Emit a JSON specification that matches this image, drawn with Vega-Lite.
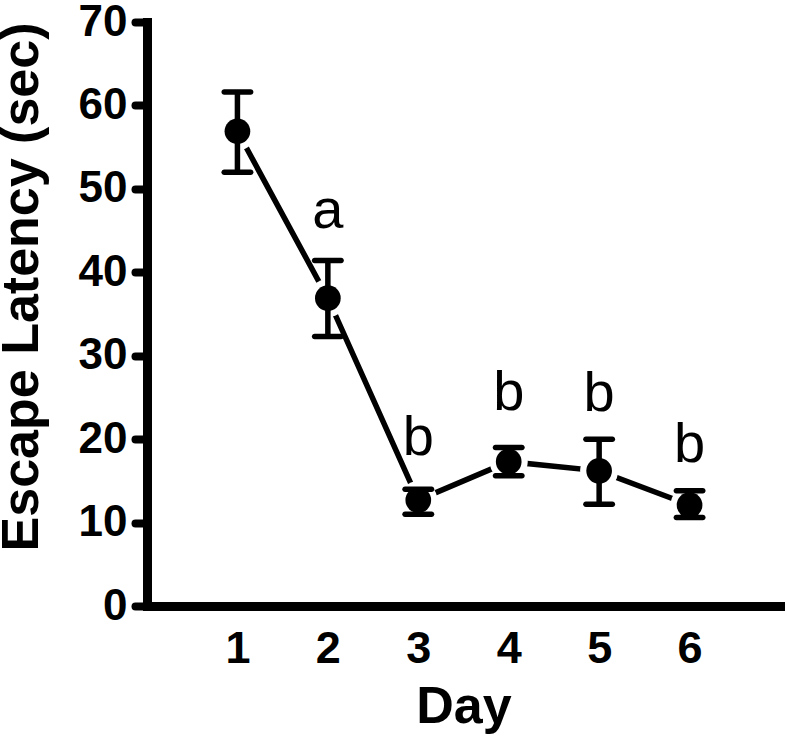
{
  "$schema": "https://vega.github.io/schema/vega-lite/v6.json",
  "autosize": "none",
  "width": 633,
  "height": 584,
  "padding": {"left": 147, "top": 22, "right": 7, "bottom": 132},
  "background": "white",
  "config": {
    "view": {"stroke": null},
    "font": "Liberation Sans",
    "axis": {
      "grid": false,
      "domainColor": "black",
      "domainWidth": 9,
      "domainCap": "square",
      "tickColor": "black",
      "labelColor": "black",
      "titleColor": "black",
      "labelFont": "Liberation Sans",
      "titleFont": "Liberation Sans",
      "labelFontWeight": "bold",
      "titleFontWeight": "bold"
    }
  },
  "data": {
    "values": [
      {"day": 1, "mean": 56.9, "lo": 52.0, "hi": 61.6, "letter": "", "ly": 0},
      {"day": 2, "mean": 36.9, "lo": 32.3, "hi": 41.4, "letter": "a", "ly": 45.3},
      {"day": 3, "mean": 12.7, "lo": 11.0, "hi": 14.0, "letter": "b", "ly": 18.1},
      {"day": 4, "mean": 17.3, "lo": 15.6, "hi": 19.0, "letter": "b", "ly": 23.5},
      {"day": 5, "mean": 16.2, "lo": 12.2, "hi": 20.0, "letter": "b", "ly": 23.4},
      {"day": 6, "mean": 12.1, "lo": 10.6, "hi": 13.8, "letter": "b", "ly": 17.3}
    ]
  },
  "encoding": {
    "x": {
      "field": "day",
      "type": "quantitative",
      "scale": {"domain": [0, 7], "nice": false, "zero": false},
      "axis": {
        "title": "Day",
        "values": [1, 2, 3, 4, 5, 6],
        "ticks": false,
        "labelFontSize": 45,
        "labelPadding": 20,
        "titleFontSize": 52,
        "titlePadding": 10
      }
    }
  },
  "layer": [
    {
      "mark": {"type": "line", "color": "black", "strokeWidth": 5.5},
      "encoding": {
        "y": {
          "field": "mean",
          "type": "quantitative",
          "scale": {"domain": [0, 70], "nice": false},
          "axis": {
            "title": "Escape Latency (sec)",
            "values": [0, 10, 20, 30, 40, 50, 60, 70],
            "tickSize": 12,
            "tickWidth": 8,
            "tickCap": "round",
            "labelFontSize": 44,
            "labelPadding": 8,
            "titleFontSize": 52,
            "titleAnchor": "end",
            "titlePadding": 30
          }
        }
      }
    },
    {
      "mark": {"type": "point", "shape": "circle", "filled": true, "color": "white", "opacity": 1, "size": 1450},
      "encoding": {"y": {"field": "mean", "type": "quantitative"}}
    },
    {
      "mark": {"type": "rule", "color": "black", "strokeWidth": 5.5},
      "encoding": {
        "y": {"field": "lo", "type": "quantitative"},
        "y2": {"field": "hi"}
      }
    },
    {
      "mark": {"type": "tick", "orient": "horizontal", "color": "black", "size": 32, "thickness": 5.5, "opacity": 1, "cornerRadius": 2.75},
      "encoding": {"y": {"field": "hi", "type": "quantitative"}}
    },
    {
      "mark": {"type": "tick", "orient": "horizontal", "color": "black", "size": 32, "thickness": 5.5, "opacity": 1, "cornerRadius": 2.75},
      "encoding": {"y": {"field": "lo", "type": "quantitative"}}
    },
    {
      "mark": {"type": "point", "shape": "circle", "filled": true, "color": "black", "opacity": 1, "size": 660},
      "encoding": {"y": {"field": "mean", "type": "quantitative"}}
    },
    {
      "transform": [{"filter": "datum.letter != ''"}],
      "mark": {"type": "text", "font": "Liberation Sans", "fontSize": 56, "color": "black", "baseline": "alphabetic", "align": "center"},
      "encoding": {
        "y": {"field": "ly", "type": "quantitative"},
        "text": {"field": "letter"}
      }
    }
  ]
}
